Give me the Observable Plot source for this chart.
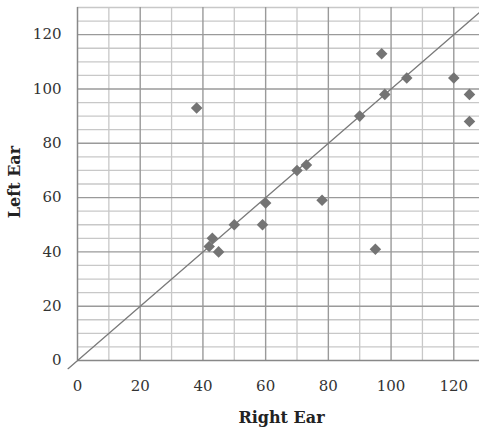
<!DOCTYPE html>
<html>
<head>
<meta charset="utf-8">
<script src="https://cdn.jsdelivr.net/npm/d3@7"></script>
<script src="https://cdn.jsdelivr.net/npm/@observablehq/plot@0.6"></script>
<style>
  html, body { margin: 0; padding: 0; background: #fff; }
  #chart { width: 479px; height: 428px; }
</style>
</head>
<body>
<div id="chart"></div>
<script>
const rightEar = [38, 97, 105, 120, 98, 125, 125, 90, 70, 73, 78, 60, 59, 50, 43, 42, 45, 95];
const leftEar  = [93, 113, 104, 104, 98, 98, 88, 90, 70, 72, 59, 58, 50, 50, 45, 42, 40, 41];
const xTicks = [0, 20, 40, 60, 80, 100, 120];
const yTicks = [0, 20, 40, 60, 80, 100, 120];
const xMinor = [10, 30, 50, 70, 90, 110];
const yMinor = [5, 10, 15, 25, 30, 35, 45, 50, 55, 65, 70, 75, 85, 90, 95, 105, 110, 115, 125, 130];
const xMajor = [20, 40, 60, 80, 100, 120];
const yMajor = [20, 40, 60, 80, 100, 120];
const refLine = [-3, 131];

const points = rightEar.map((x, i) => ({x, y: leftEar[i]}));

const chart = Plot.plot({
  width: 479,
  height: 428,
  marginLeft: 77,
  marginRight: 0,
  marginTop: 7,
  marginBottom: 68,
  style: {fontFamily: "'DejaVu Serif', serif", fontSize: "15px", color: "#333", background: "#fff"},
  x: {domain: [0, 128.2]},
  y: {domain: [0, 130]},
  marks: [
    Plot.ruleX(xMinor, {stroke: "#c8c8c8", strokeWidth: 1.3}),
    Plot.ruleY(yMinor, {stroke: "#c8c8c8", strokeWidth: 1.3}),
    Plot.ruleX(xMajor, {stroke: "#9a9a9a", strokeWidth: 1.4}),
    Plot.ruleY(yMajor, {stroke: "#9a9a9a", strokeWidth: 1.4}),
    Plot.ruleX([0], {stroke: "#888", strokeWidth: 1.5}),
    Plot.ruleY([0], {stroke: "#888", strokeWidth: 1.5}),
    Plot.line(refLine.map(v => ({x: v, y: v})), {x: "x", y: "y", stroke: "#7a7a7a", strokeWidth: 1.3, clip: false}),
    Plot.dot(points, {x: "x", y: "y", symbol: "diamond2", r: 5.2, fill: "#747474", stroke: "none"}),
    Plot.axisX(xTicks, {tickSize: 0, tickPadding: 20, label: null, fontSize: 15, fill: "#333"}),
    Plot.axisY(yTicks, {tickSize: 0, tickPadding: 16, label: null, fontSize: 15, fill: "#333"}),
    Plot.text(["Right Ear"], {frameAnchor: "bottom", dx: 3, dy: 62, fontWeight: "bold", fontSize: 16, fill: "#222"}),
    Plot.text(["Left Ear"], {frameAnchor: "left", textAnchor: "middle", dx: -63, dy: -2, rotate: -90, fontWeight: "bold", fontSize: 16, fill: "#222"})
  ]
});
document.getElementById("chart").appendChild(chart);
</script>
</body>
</html>
